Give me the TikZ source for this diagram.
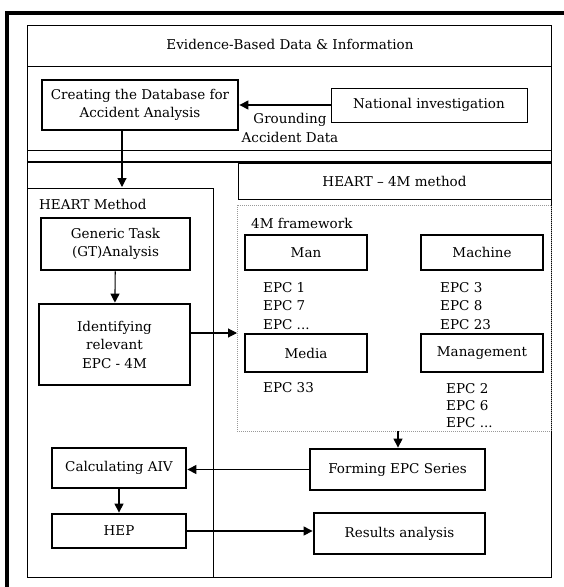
\documentclass[tikz,border=0pt]{standalone}
\usepackage{fontspec}
\setmainfont{DejaVu Serif}
\usetikzlibrary{arrows.meta}

\begin{document}
\begin{tikzpicture}[x=1pt,y=-1pt,
	every node/.style={font=\fontsize{13.5}{18.5}\selectfont, inner sep=1pt},
	flowbox/.style={draw, line width=2.8pt, align=center},
	thinbox/.style={draw, line width=1pt, align=center},
	epclist/.style={anchor=west, align=left},
	flowarrow/.style={line width=1.1pt, -{Triangle[length=9pt,width=9pt]}}]
	\useasboundingbox (0,0) rectangle (564,587);
	\clip (0,0) rectangle (564,587);
	
	% frames
	\draw[line width=3.2pt] (7,13) rectangle (590,610);
	\draw[line width=1pt] (27,25) rectangle (551,577);
	\draw[line width=1pt] (27,66) -- (551,66) (27,150) -- (551,150);
	\draw[line width=2pt] (27,162) -- (551,162);
	\draw[line width=1pt] (27,188) -- (213,188) -- (213,577);
	\draw[gray!80, densely dotted, line width=1pt] (237,205) rectangle (551,431);
	
	\node (evid) at (290,44) {Evidence-Based Data \& Information};
	\node[thinbox, minimum width=313pt, minimum height=36pt] (heart4m) at (394.5,181) {HEART -- 4M method};
	\node[anchor=west] (heartm) at (38,204) {HEART Method};
	\node[anchor=west] (frame4m) at (250,223) {4M framework};
	
	% upper part
	\node[flowbox, minimum width=196pt, minimum height=50pt] (creating) at (140,105) {Creating the Database for\\Accident Analysis};
	\node[thinbox, minimum width=196pt, minimum height=34pt] (national) at (429,105) {National investigation};
	\node[align=center] (grounding) at (290,128) {Grounding\\Accident Data};
	
	% HEART method
	\node[flowbox, minimum width=149pt, minimum height=52pt] (generic) at (115.5,244) {Generic Task\\(GT)Analysis};
	\node[flowbox, minimum width=151pt, minimum height=81pt] (identify) at (114.5,344.5) {Identifying\\relevant\\EPC - 4M};
	\node[flowbox, minimum width=134pt, minimum height=40pt] (calc) at (119,468) {Calculating AIV};
	\node[flowbox, minimum width=134pt, minimum height=34pt] (hep) at (119,531) {HEP};
	
	% 4M framework
	\node[flowbox, minimum width=122pt, minimum height=35pt] (man) at (306,252.5) {Man};
	\node[flowbox, minimum width=122pt, minimum height=35pt] (machine) at (482,252.5) {Machine};
	\node[flowbox, minimum width=122pt, minimum height=38pt] (media) at (306,353) {Media};
	\node[flowbox, minimum width=122pt, minimum height=38pt] (mgmt) at (482,353) {Management};
	\node[epclist] (epcman) at (262,306) {EPC 1\\EPC 7\\EPC ...};
	\node[epclist] (epcmach) at (439,306) {EPC 3\\EPC 8\\EPC 23};
	\node[epclist] (epcmedia) at (262,388) {EPC 33};
	\node[epclist, font=\fontsize{13.5}{17}\selectfont] (epcmgmt) at (445,406) {EPC 2\\EPC 6\\EPC ...};
	
	\node[flowbox, minimum width=175pt, minimum height=41pt] (forming) at (397.5,469.5) {Forming EPC Series};
	\node[flowbox, minimum width=171pt, minimum height=41pt] (results) at (399.5,533.5) {Results analysis};
	
	\coordinate (methodin) at (122,187);
	\coordinate (fwin) at (237,333);
	\coordinate (fwout) at (398,431);
	
	% connectors
	\draw[flowarrow] (national.west) -- (creating.east);
	\draw[flowarrow] (creating.south -| methodin) -- (methodin);
	\draw[flowarrow] (generic) -- (identify);
	\draw[flowarrow] (identify.east |- fwin) -- (fwin);
	\draw[flowarrow] (fwout) -- (forming.north -| fwout);
	\draw[flowarrow] (forming.west) -- (calc.east |- forming.west);
	\draw[flowarrow] (calc) -- (hep);
	\draw[flowarrow] (hep.east) -- (results.west |- hep.east);
\end{tikzpicture}
\end{document}
